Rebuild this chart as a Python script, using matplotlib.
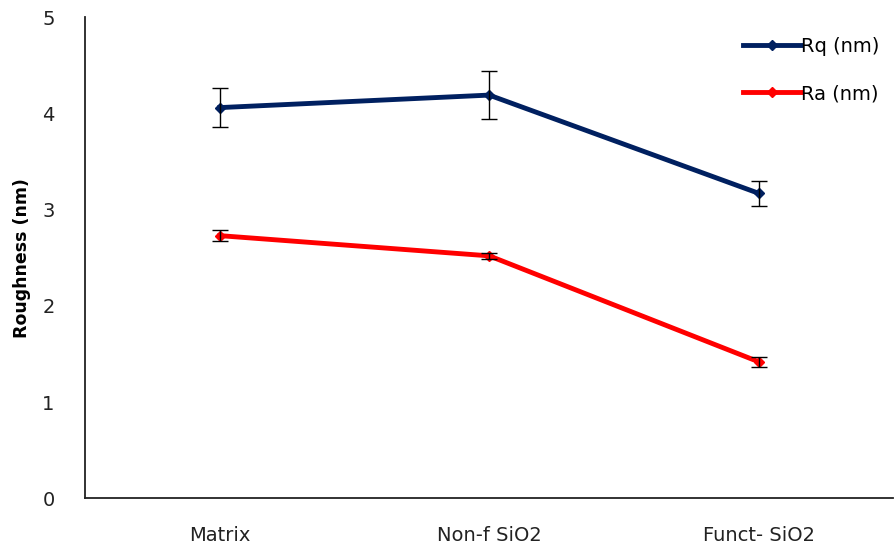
import matplotlib

matplotlib.use("Agg")
import matplotlib.pyplot as plt  # noqa: E402

categories = ["Matrix", "Non-f SiO2", "Funct- SiO2"]
rq_values = [4.06, 4.19, 3.17]
rq_errors = [0.20, 0.25, 0.13]
ra_values = [2.73, 2.52, 1.42]
ra_errors = [0.06, 0.03, 0.05]

plt.rcParams["font.family"] = ["DejaVu Sans"]

fig = plt.figure(figsize=(8.96, 5.52), dpi=100)
ax = fig.add_axes([0.095, 0.097, 0.902, 0.872])

x = list(range(len(categories)))
for vals, errs, color, label in [
    (rq_values, rq_errors, "#002060", "Rq (nm)"),
    (ra_values, ra_errors, "#ff0000", "Ra (nm)"),
]:
    ax.plot(x, vals, color=color, lw=3.5, marker="D", markersize=5, label=label, zorder=3)
    ax.errorbar(x, vals, yerr=errs, fmt="none", ecolor="black", elinewidth=1.0,
                capsize=6, capthick=1.0, zorder=4)

ax.set_xlim(-0.5, 2.5)
ax.set_ylim(0, 5)
ax.set_yticks([0, 1, 2, 3, 4, 5])
ax.set_xticks(x)
ax.set_xticklabels(categories)
ax.tick_params(axis="both", length=0, labelsize=14, colors="#222222")
ax.tick_params(axis="y", pad=22)
ax.tick_params(axis="x", pad=20)
ax.set_ylabel("Roughness (nm)", fontsize=12.5, fontweight="bold", labelpad=8)

for side in ["top", "right"]:
    ax.spines[side].set_visible(False)
for side in ["left", "bottom"]:
    ax.spines[side].set_linewidth(1.3)
    ax.spines[side].set_color("#222222")

ax.legend(loc="upper right", bbox_to_anchor=(1.005, 0.995), frameon=False, fontsize=14,
          handlelength=3.0, handletextpad=0.0, labelspacing=1.45)

fig.savefig("out.png", dpi=100)
